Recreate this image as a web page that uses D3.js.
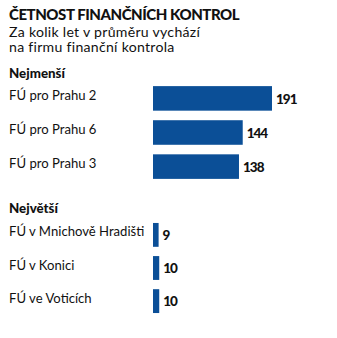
<!DOCTYPE html>
<html><head><meta charset="utf-8">
<script src="https://cdn.jsdelivr.net/npm/d3@7"></script>
<style>body{margin:0;background:#fff;}svg{display:block;}</style>
</head><body>
<script>
const title = "ČETNOST FINANČNÍCH KONTROL";
const subtitle = ["Za kolik let v průměru vychází", "na firmu finanční kontrola"];
const group1Title = "Nejmenší";
const group1Labels = ["FÚ pro Prahu 2", "FÚ pro Prahu 6", "FÚ pro Prahu 3"];
const group1Values = [191, 144, 138];
const group2Title = "Největší";
const group2Labels = ["FÚ v Mnichově Hradišti", "FÚ v Konici", "FÚ ve Voticích"];
const group2Values = [9, 10, 10];

const W = 337, H = 338;
const svg = d3.select("body").append("svg").attr("width", W).attr("height", H);
const font = "Lato, sans-serif";
const barColor = "#0b4f97";

svg.append("text").attr("x", 9).attr("y", 20).text(title)
  .attr("font-family", font).attr("font-weight", 900).attr("font-size", 15)
  .attr("letter-spacing", -0.45).attr("fill", "#111");
const sub = svg.append("text").attr("x", 9).attr("y", 36.8)
  .attr("font-family", font).attr("font-size", 14.1).attr("letter-spacing", 0.28).attr("fill", "#111");
sub.selectAll("tspan").data(subtitle).join("tspan")
  .attr("x", 9).attr("dy", (d, i) => i === 0 ? 0 : 15.4).text(d => d);

const x = d3.scaleLinear().domain([0, 191]).range([153, 272]);

function group(titleText, titleY, labels, values, top, bottom) {
  svg.append("text").attr("x", 9).attr("y", titleY).text(titleText)
    .attr("font-family", font).attr("font-weight", 900).attr("font-size", 13.3).attr("fill", "#111");
  const y = d3.scaleBand().domain(labels).range([top, bottom]).paddingInner(0.28).paddingOuter(0.15);
  const g = svg.append("g");
  g.selectAll("rect").data(values).join("rect")
    .attr("x", x(0)).attr("y", (d, i) => y(labels[i]))
    .attr("width", d => x(d) - x(0)).attr("height", y.bandwidth())
    .attr("fill", barColor);
  g.selectAll("text.lab").data(labels).join("text").attr("class", "lab")
    .attr("x", 9).attr("y", d => y(d) + y.bandwidth() / 2 - 3).attr("dy", "0.35em").text(d => d)
    .attr("font-family", font).attr("font-size", 13.1).attr("fill", "#111");
  g.selectAll("text.val").data(values).join("text").attr("class", "val")
    .attr("x", d => x(d) + 4).attr("y", (d, i) => y(labels[i]) + y.bandwidth() / 2 + 0.5).attr("dy", "0.35em").text(d => d)
    .attr("font-family", font).attr("font-weight", 900).attr("font-size", 13.5).attr("letter-spacing", -1).attr("fill", "#111");
}

group(group1Title, 78, group1Labels, group1Values, 81, 184);
group(group2Title, 213, group2Labels, group2Values, 218, 318);
</script>
</body></html>
